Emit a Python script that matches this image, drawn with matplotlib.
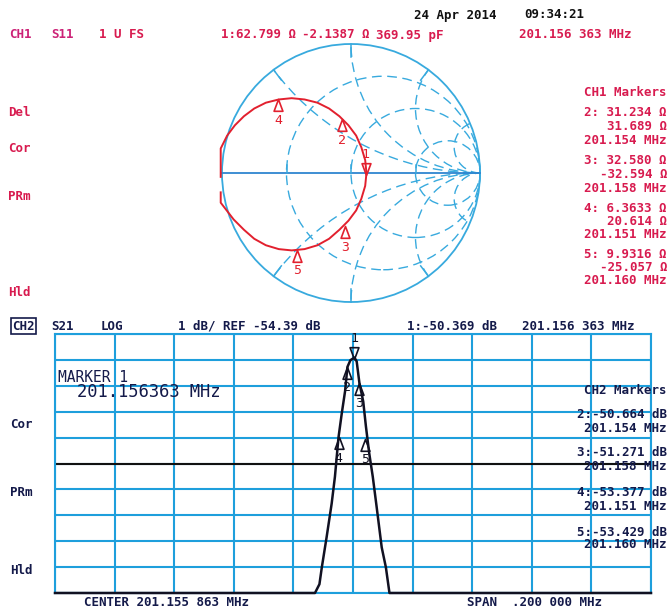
import numpy as np
import matplotlib
matplotlib.use("Agg")
import matplotlib.pyplot as plt
from matplotlib.path import Path
from matplotlib.patches import Circle

# Analyzer settings
z0 = 50.0
center_mhz = 201.155863
span_mhz = 0.200
ref_db = -54.39
db_per_div = 1.0
cap_pf = 369.95

# Markers (same frequencies on both channels)
marker_ids = [1, 2, 3, 4, 5]
marker_freq = [201.156363, 201.154, 201.158, 201.151, 201.160]
marker_r = [62.799, 31.234, 32.580, 6.3633, 9.9316]
marker_x = [-2.1387, 31.689, -32.594, 20.614, -25.057]
marker_db = [-50.369, -50.664, -51.271, -53.377, -53.429]

# S11 trace (reflection coefficient)
s11_re = [-1.01, -1.01, -0.96, -0.90, -0.83, -0.75, -0.66, -0.56, -0.46, -0.36,
          -0.26, -0.17, -0.09, -0.02, 0.04, 0.08, 0.11, 0.12, 0.11, 0.08,
          0.04, -0.02, -0.09, -0.17, -0.26, -0.36, -0.46, -0.56, -0.66, -0.75,
          -0.83, -0.91, -1.01, -1.01]
s11_im = [-0.03, 0.19, 0.29, 0.37, 0.44, 0.50, 0.545, 0.57, 0.58, 0.57,
          0.545, 0.50, 0.44, 0.37, 0.29, 0.20, 0.10, 0.0, -0.10, -0.20,
          -0.29, -0.37, -0.44, -0.51, -0.56, -0.59, -0.60, -0.59, -0.56, -0.51,
          -0.44, -0.36, -0.23, -0.15]

# S21 trace (log mag)
s21_freq = [201.055863, 201.1431, 201.1446, 201.1454, 201.1470, 201.1487, 201.1498,
            201.1510, 201.1521, 201.1532, 201.1540, 201.1550, 201.15636, 201.1571,
            201.1580, 201.1593, 201.1602, 201.1613, 201.1625, 201.1638, 201.1655,
            201.1669, 201.1681, 201.255863]
s21_db = [-59.39, -59.39, -59.05, -58.40, -57.24, -55.94, -54.90,
          -53.38, -52.45, -51.60, -50.66, -50.40, -50.30, -50.45,
          -51.27, -52.00, -52.96, -53.99, -54.90, -56.07, -57.63,
          -58.40, -59.39, -59.39]

# Smith chart grid values
smith_r = [1 / 3, 1, 3]
smith_x = [0.5, 1, 2, 5]

RED = "#d81b4f"
TRACE_RED = "#e2202e"
NAVY = "#141a4a"
CYAN = "#38aade"
GRID = "#1e9fdc"
FONT = "DejaVu Sans Mono"


def fmt5(v):
    return f"{v:#.5g}"


def fmt_freq(f):
    s = f"{f:.6f}"
    return s[:7] + " " + s[7:]


up_tri = Path([(0, 0), (0.375, -1), (-0.375, -1), (0, 0)],
              [Path.MOVETO, Path.LINETO, Path.LINETO, Path.CLOSEPOLY])
down_tri = Path([(0, 0), (0.375, 1), (-0.375, 1), (0, 0)],
                [Path.MOVETO, Path.LINETO, Path.LINETO, Path.CLOSEPOLY])


def draw_marker(ax, x, y, n, color):
    if n == 1:
        ax.plot([x], [y], marker=down_tri, ms=17, mfc="none", mec=color, mew=1.2,
                clip_on=False, zorder=5)
        dy = 15
    else:
        ax.plot([x], [y], marker=up_tri, ms=17, mfc="none", mec=color, mew=1.2,
                clip_on=False, zorder=5)
        dy = -15
    ax.annotate(str(n), (x, y), xytext=(0, dy), textcoords="offset points",
                ha="center", va="center", color=color, fontsize=9.5,
                family=FONT, annotation_clip=False)


def main():
    fig = plt.figure(figsize=(6.72, 6.13), dpi=100)
    W, H = 672, 613

    # ---------- CH1: Smith chart ----------
    L = 140 / 129
    ax1 = fig.add_axes([211 / W, 1 - 313 / H, 280 / W, 280 / H])
    ax1.set_xlim(-L, L)
    ax1.set_ylim(-L, L)
    ax1.axis("off")

    outer = Circle((0, 0), 1, fill=False, ec=CYAN, lw=1.3)
    ax1.add_patch(outer)
    ax1.plot([-1, 1], [0, 0], color="#2f86d0", lw=1.3)

    for r in smith_r:
        c = Circle((r / (1 + r), 0), 1 / (1 + r), fill=False, ec=CYAN, lw=1.0,
                   ls=(0, (7, 4)))
        ax1.add_patch(c)
        u0 = (r - 1) / (r + 1)
        ax1.plot([u0, u0], [0, 0.06], color=CYAN, lw=1.1)
    for x in smith_x:
        for s in (1, -1):
            c = Circle((1, s / x), 1 / x, fill=False, ec=CYAN, lw=1.0,
                       ls=(0, (7, 4)))
            ax1.add_patch(c)
            c.set_clip_path(outer)
            if x < 5:
                eu = (x * x - 1) / (x * x + 1)
                ev = s * 2 * x / (x * x + 1)
                ax1.plot([eu, 0.9 * eu], [ev, 0.9 * ev], color=CYAN, lw=1.1)

    ax1.plot(s11_re, s11_im, color=TRACE_RED, lw=1.4, clip_on=False)

    z = (np.array(marker_r) + 1j * np.array(marker_x)) / z0
    gam = (z - 1) / (z + 1)
    for n, g in zip(marker_ids, gam):
        draw_marker(ax1, g.real, g.imag, n, TRACE_RED)

    # ---------- CH2: S21 log mag ----------
    ax2 = fig.add_axes([55 / W, 1 - 593 / H, 596 / W, 259 / H])
    f0 = center_mhz - span_mhz / 2
    f1 = center_mhz + span_mhz / 2
    y0 = ref_db - 5 * db_per_div
    y1 = ref_db + 5 * db_per_div
    ax2.set_xlim(f0, f1)
    ax2.set_ylim(y0, y1)
    ax2.set_facecolor("none")
    ax2.set_xticks(np.linspace(f0, f1, 11))
    ax2.set_yticks(np.linspace(y0, y1, 11))
    ax2.tick_params(length=0, labelbottom=False, labelleft=False)
    ax2.grid(True, color=GRID, lw=1.5)
    for sp in ax2.spines.values():
        sp.set_color(GRID)
        sp.set_linewidth(1.5)
    ax2.axhline(ref_db, color="#111111", lw=1.5)
    ax2.plot(s21_freq, s21_db, color="#111122", lw=1.8, clip_on=False, zorder=4)
    for n, f, d in zip(marker_ids, marker_freq, marker_db):
        draw_marker(ax2, f, d, n, "#111122")

    # ---------- screen annotations ----------
    ax = fig.add_axes([0, 0, 1, 1])
    ax.set_xlim(0, W)
    ax.set_ylim(H, 0)
    ax.set_facecolor("none")
    ax.axis("off")

    def t(x, y, s, color=NAVY, size=9, ha="left", weight="bold", **kw):
        ax.text(x, y, s, color=color, fontsize=size, ha=ha, va="center",
                family=FONT, fontweight=weight, **kw)

    t(414, 15, "24 Apr 2014", color="#111111")
    t(524, 15, "09:34:21", color="#111111")

    t(9, 35, "CH1", color="#cc2277")
    t(51, 35, "S11", color="#cc2277")
    t(99, 35, "1 U FS", color=RED)
    t(221, 35, f"1:{fmt5(marker_r[0])} Ω", color=RED)
    t(369, 35, f"{fmt5(marker_x[0])} Ω", color=RED, ha="right")
    t(376, 35, f"{fmt5(cap_pf)} pF", color=RED)
    t(519, 35, f"{fmt_freq(marker_freq[0])} MHz", color=RED)

    for y, s in zip([113, 148, 196, 293], ["Del", "Cor", "PRm", "Hld"]):
        t(8, y, s, color=RED)

    t(667, 93, "CH1 Markers", color=RED, ha="right")
    for y, n, f, r, x in zip([113, 161, 208, 254], marker_ids[1:], marker_freq[1:],
                             marker_r[1:], marker_x[1:]):
        t(667, y, f"{n}: {fmt5(r)} Ω", color=RED, ha="right")
        t(667, y + 13.5, f"{fmt5(x)} Ω", color=RED, ha="right")
        t(667, y + 27, f"{f:.3f} MHz", color=RED, ha="right")

    t(12, 326, "CH2", bbox=dict(boxstyle="square,pad=0.1", fc="none", ec=NAVY, lw=1.2))
    t(51, 326, "S21")
    t(101, 326, "LOG")
    t(178, 326, f"{db_per_div:.0f} dB/ REF {ref_db:.2f} dB")
    t(407, 326, f"1:{marker_db[0]:.3f} dB")
    t(522, 326, f"{fmt_freq(marker_freq[0])} MHz")

    t(58, 377, "MARKER 1", size=10.5, weight="normal")
    t(77, 392, f"{marker_freq[0]:.6f} MHz", size=12.3, weight="normal")

    for y, s in zip([425, 492, 571], ["Cor", "PRm", "Hld"]):
        t(10, y, s)

    t(667, 390, "CH2 Markers", ha="right")
    for y, n, f, d in zip([415, 453, 493, 532], marker_ids[1:], marker_freq[1:],
                          marker_db[1:]):
        t(667, y, f"{n}:{d:.3f} dB", ha="right")
        t(667, y + 13, f"{f:.3f} MHz", ha="right")

    span_s = f"{span_mhz:.6f}".lstrip("0")
    t(84, 603, f"CENTER {fmt_freq(center_mhz)} MHz")
    t(467, 603, f"SPAN  {span_s[:4]} {span_s[4:]} MHz")

    fig.savefig("out.png", dpi=100, facecolor="white")


if __name__ == "__main__":
    main()
